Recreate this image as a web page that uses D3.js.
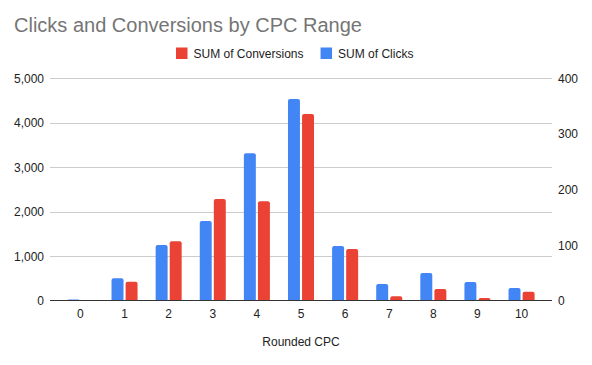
<!DOCTYPE html>
<html><head><meta charset="utf-8">
<script src="https://cdn.jsdelivr.net/npm/d3@7"></script>
<style>body{margin:0;background:#fff}svg{display:block;font-family:"Liberation Sans",Arial,sans-serif}</style>
</head><body>
<svg id="c" width="592" height="365"></svg>
<script>
const categories = ["0","1","2","3","4","5","6","7","8","9","10"];
const clicks = [25, 505, 1252, 1792, 3314, 4535, 1230, 375, 623, 420, 286];
const conversions = [0, 34, 107, 183, 179, 336, 93, 8, 21, 5, 16];
const leftTicks = [0, 1000, 2000, 3000, 4000, 5000];
const rightTicks = [0, 100, 200, 300, 400];
const title = "Clicks and Conversions by CPC Range";
const xTitle = "Rounded CPC";
const seriesNames = ["SUM of Clicks", "SUM of Conversions"];
const colors = {clicks: "#4285F4", conv: "#EA4335"};

const svg = d3.select("#c");
const L = 50, R = 552, T = 78.3, B = 300.7;

const x0 = d3.scaleBand().domain(categories).range([L, R]).paddingInner(0.41).paddingOuter(0.395);
const x1 = d3.scaleBand().domain(["clicks","conv"]).range([0, x0.bandwidth()]).paddingInner(0.15);
const yL = d3.scaleLinear().domain([0, 5000]).range([B, T]);
const yR = d3.scaleLinear().domain([0, 400]).range([B, T]);

svg.append("text").attr("x", 14).attr("y", 32).attr("font-size", 20).attr("fill", "#757575").text(title);

// gridlines
svg.append("g").selectAll("line").data(leftTicks.filter(d => d > 0)).join("line")
  .attr("x1", L).attr("x2", R).attr("y1", d => Math.round(yL(d)) + 0.5).attr("y2", d => Math.round(yL(d)) + 0.5)
  .attr("stroke", "#cccccc").attr("stroke-width", 1);

// left axis labels
svg.append("g").selectAll("text").data(leftTicks).join("text")
  .attr("x", 44).attr("y", d => yL(d) + 4.5).attr("text-anchor", "end").attr("font-size", 12).attr("fill", "#222")
  .text(d => d3.format(",")(d));
// right axis labels
svg.append("g").selectAll("text").data(rightTicks).join("text")
  .attr("x", 558).attr("y", d => yR(d) + 4.5).attr("text-anchor", "start").attr("font-size", 12).attr("fill", "#222")
  .text(d => d3.format(",")(d));

function barPath(x, y, w, h, r) {
  if (h <= 0) return "";
  r = Math.min(r, h, w / 2);
  return `M${x},${y + h}V${y + r}Q${x},${y} ${x + r},${y}H${x + w - r}Q${x + w},${y} ${x + w},${y + r}V${y + h}Z`;
}

const g = svg.append("g");
categories.forEach((c, i) => {
  const bx = x0(c);
  const yc = yL(clicks[i]);
  g.append("path").attr("d", barPath(bx + x1("clicks"), yc, x1.bandwidth(), B - yc, 2)).attr("fill", colors.clicks);
  const yv = yR(conversions[i]);
  g.append("path").attr("d", barPath(bx + x1("conv"), yv, x1.bandwidth(), B - yv, 2)).attr("fill", colors.conv);
});

// baseline
svg.append("line").attr("x1", L).attr("x2", R).attr("y1", 300.5).attr("y2", 300.5).attr("stroke", "#333").attr("stroke-width", 1);

// x labels
svg.append("g").selectAll("text").data(categories).join("text")
  .attr("x", d => x0(d) + x0.bandwidth() / 2).attr("y", 318).attr("text-anchor", "middle").attr("font-size", 12).attr("fill", "#222")
  .text(d => d);

svg.append("text").attr("x", 301).attr("y", 346).attr("text-anchor", "middle").attr("font-size", 12).attr("fill", "#222").text(xTitle);

// legend: Conversions first, then Clicks
const legendItems = [{name: seriesNames[1], color: colors.conv}, {name: seriesNames[0], color: colors.clicks}];
const lg = svg.append("g");
let lx = 176;
legendItems.forEach(it => {
  lg.append("rect").attr("x", lx).attr("y", 47.5).attr("width", 11.5).attr("height", 11.5).attr("fill", it.color);
  const t = lg.append("text").attr("x", lx + 17.5).attr("y", 58).attr("font-size", 12).attr("fill", "#222").text(it.name);
  lx += 17.5 + t.node().getComputedTextLength() + 17;
});
</script>
</body></html>
